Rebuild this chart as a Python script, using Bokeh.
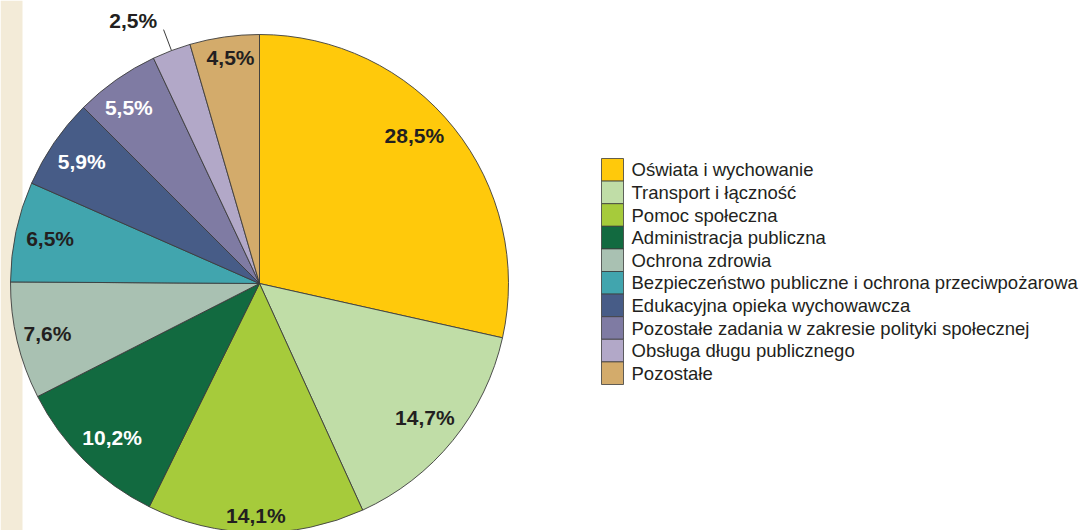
import math
from bokeh.plotting import figure
from bokeh.models import Range1d, ColumnDataSource
from bokeh.core.properties import value
from bokeh.embed import file_html
from bokeh.resources import INLINE

# ---- data ----
categories = [
    "Oświata i wychowanie",
    "Transport i łączność",
    "Pomoc społeczna",
    "Administracja publiczna",
    "Ochrona zdrowia",
    "Bezpieczeństwo publiczne i ochrona przeciwpożarowa",
    "Edukacyjna opieka wychowawcza",
    "Pozostałe zadania w zakresie polityki społecznej",
    "Obsługa długu publicznego",
    "Pozostałe",
]
shares = [28.5, 14.7, 14.1, 10.2, 7.6, 6.5, 5.9, 5.5, 2.5, 4.5]
labels = ["28,5%", "14,7%", "14,1%", "10,2%", "7,6%", "6,5%", "5,9%", "5,5%", "2,5%", "4,5%"]

# ---- styles ----
colors = ["#FFC90B", "#C0DDA7", "#A6CB3B", "#126A40", "#A9C1B2",
          "#41A5AE", "#475C87", "#7F7BA3", "#B2A8C8", "#D3AB6B"]
label_colors = ["#231F20", "#231F20", "#231F20", "#FFFFFF", "#231F20",
                "#231F20", "#FFFFFF", "#FFFFFF", "#231F20", "#231F20"]
label_rfac = [0.86, 0.855, 0.93, 0.855, 0.875, 0.86, 0.865, 0.88, 1.17, 0.915]
label_dang = [-5.0, 0, 0, -0.8, 0, 0, 0, -1.5, -5.0, 0.8]   # degrees, clockwise offsets
outside = [False] * 8 + [True, False]

W, H = 1082, 530
cx, cy = 259, H - 283   # pie centre (data coords == page pixels)
R = 249
ink = "#231F20"

p = figure(width=W, height=H, output_backend="svg", toolbar_location=None,
           x_range=Range1d(0, W), y_range=Range1d(0, H),
           min_border=0, x_axis_location=None, y_axis_location=None,
           background_fill_color="white", border_fill_color="white")
p.outline_line_color = None
p.xgrid.visible = False
p.ygrid.visible = False

# beige strip at the left edge
p.quad(left=[0], right=[22], bottom=[0], top=[H], fill_color="#F3EBD8", line_color=None)

# wedges (clockwise from 12 o'clock)
total = sum(shares)
starts, ends, mids = [], [], []
cum = 0.0
for s in shares:
    a0 = cum / total
    cum += s
    a1 = cum / total
    starts.append(math.pi / 2 - a1 * 2 * math.pi)
    ends.append(math.pi / 2 - a0 * 2 * math.pi)
    mids.append((a0 + a1) / 2 * 360.0)

src = ColumnDataSource(dict(start=starts, end=ends, color=colors))
p.wedge(x=cx, y=cy, radius=R, start_angle="start", end_angle="end",
        fill_color="color", line_color="#3C3C3C", line_width=0.9, source=src)

# labels
lx, ly = [], []
for i, m in enumerate(mids):
    ang = math.radians(m + label_dang[i])
    r = label_rfac[i] * R
    lx.append(cx + r * math.sin(ang))
    ly.append(cy + r * math.cos(ang))
    if outside[i]:
        a = math.radians(m)
        p.line([cx + R * math.sin(a), cx + 1.09 * R * math.sin(a)],
               [cy + R * math.cos(a), cy + 1.09 * R * math.cos(a)],
               line_color="#3C3C3C", line_width=1)

p.text(x=lx, y=ly, text=labels, text_color=label_colors,
       text_font=value("Liberation Sans"), text_font_style="bold",
       text_font_size="21px", text_align="center", text_baseline="middle")

# legend
lg_x0, lg_x1 = 601, 623
lg_top = H - 158
row = 22.6
tops = [lg_top - i * row for i in range(len(categories))]
p.quad(left=lg_x0, right=lg_x1, top=tops, bottom=[t - row for t in tops],
       fill_color=colors, line_color="#3C3C3C", line_width=0.8)
p.text(x=[631] * len(categories), y=[t - row / 2 for t in tops], text=categories,
       text_color=ink, text_font=value("Liberation Sans"), text_font_size="18.5px",
       text_align="left", text_baseline="middle")

open("out.html", "w").write(file_html(p, INLINE))
